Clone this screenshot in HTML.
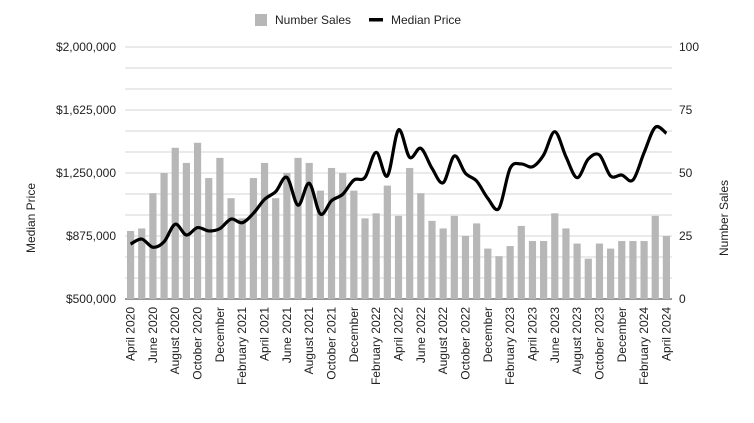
<!DOCTYPE html>
<html><head><meta charset="utf-8">
<style>
body{margin:0;background:#fff;font-family:"Liberation Sans",Arial,sans-serif;}
svg text{font-family:"Liberation Sans",Arial,sans-serif;}
</style></head>
<body>
<svg id="chart" width="754" height="418" viewBox="0 0 754 418">
  <g id="grid"></g>
  <g id="bars"></g>
  <path id="line" fill="none" stroke="#000" stroke-width="3.2" stroke-linejoin="round"/>
  <g id="yleft"></g>
  <g id="yright"></g>
  <g id="xlabels"></g>
  <text transform="translate(35,218) rotate(-90)" text-anchor="middle" font-size="12" fill="#222">Median Price</text>
  <text transform="translate(728,218) rotate(-90)" text-anchor="middle" font-size="12" fill="#222">Number Sales</text>
  <g>
    <g>
      <rect x="255" y="14" width="12" height="12" fill="#b7b7b7"/>
      <text x="275" y="24" font-size="12" fill="#222">Number Sales</text>
    </g>
    <g>
      <rect x="369" y="18" width="14" height="3.5" fill="#000"/>
      <text x="391" y="24" font-size="12" fill="#222">Median Price</text>
    </g>
  </g>
</svg>
<script>
const months = ["April 2020","May 2020","June 2020","July 2020","August 2020","September 2020","October 2020","November 2020","December","January 2021","February 2021","March 2021","April 2021","May 2021","June 2021","July 2021","August 2021","September 2021","October 2021","November 2021","December","January 2022","February 2022","March 2022","April 2022","May 2022","June 2022","July 2022","August 2022","September 2022","October 2022","November 2022","December","January 2023","February 2023","March 2023","April 2023","May 2023","June 2023","July 2023","August 2023","September 2023","October 2023","November 2023","December","January 2024","February 2024","March 2024","April 2024"];
const sales = [27,28,42,50,60,54,62,48,56,40,32,48,54,40,50,56,54,43,52,50,43,32,34,45,33,52,42,31,28,33,25,30,20,17,21,29,23,23,34,28,22,16,22,20,23,23,23,33,25];
const prices = [827000,857000,808000,841000,945000,881000,925000,905000,919000,976000,954000,1010000,1093000,1139000,1224000,1058000,1189000,1006000,1085000,1123000,1208000,1224000,1373000,1232000,1506000,1343000,1397000,1278000,1192000,1351000,1248000,1202000,1099000,1040000,1278000,1304000,1287000,1357000,1496000,1347000,1222000,1333000,1357000,1232000,1238000,1208000,1371000,1522000,1486000];
const leftTicks = ["$500,000","$875,000","$1,250,000","$1,625,000","$2,000,000"];
const rightTicks = ["0","25","50","75","100"];

const NS="http://www.w3.org/2000/svg";
const X0=125, X1=672, YT=47, YB=299;
const step=(X1-X0)/months.length;
const xPos=i=>X0+step*(i+0.5);
const ySales=v=>YB-(v/100)*(YB-YT);
const yPrice=v=>YB-((v-500000)/1500000)*(YB-YT);
function mk(tag,attrs,parent){const e=document.createElementNS(NS,tag);for(const k in attrs)e.setAttribute(k,attrs[k]);parent.appendChild(e);return e;}

const grid=document.getElementById('grid');
for(let i=0;i<=12;i++){
  const y=YB-i*(YB-YT)/12;
  const l=mk('line',{x1:X0,x2:X1,y1:y,y2:y,stroke:i===0?'#333':'#d6d6d6','stroke-width':1},grid);
  
  
}
const bars=document.getElementById('bars');
sales.forEach((v,i)=>{
  const r=mk('rect',{x:xPos(i)-3.6,width:7.2,y:ySales(v),height:YB-ySales(v),fill:'#b7b7b7'},bars);
  
  
});
// smooth line (Catmull-Rom)
const pts=prices.map((p,i)=>[xPos(i),yPrice(p)]);
let d=`M${pts[0][0]},${pts[0][1]}`;
for(let i=0;i<pts.length-1;i++){
  const p0=pts[Math.max(i-1,0)],p1=pts[i],p2=pts[i+1],p3=pts[Math.min(i+2,pts.length-1)];
  const t=0.17*3/3;
  const c1=[p1[0]+(p2[0]-p0[0])/6,p1[1]+(p2[1]-p0[1])/6];
  const c2=[p2[0]-(p3[0]-p1[0])/6,p2[1]-(p3[1]-p1[1])/6];
  d+=` C${c1[0]},${c1[1]} ${c2[0]},${c2[1]} ${p2[0]},${p2[1]}`;
}
document.getElementById('line').setAttribute('d',d);

const yl=document.getElementById('yleft'), yr=document.getElementById('yright');
leftTicks.forEach((t,i)=>{
  const y=YB-i*(YB-YT)/4+4;
  const a=mk('text',{x:116,y:y,'text-anchor':'end','font-size':12,fill:'#222'},yl);
  a.textContent=t;
  
  
  const b=mk('text',{x:679,y:y,'text-anchor':'start','font-size':12,fill:'#222'},yr);
  b.textContent=rightTicks[i];
  
  
});
const xl=document.getElementById('xlabels');
months.forEach((m,i)=>{
  if(i%2)return;
  const x=xPos(i)+4;
  const t=mk('text',{transform:`translate(${x},307) rotate(-90)`,'text-anchor':'end','font-size':12,fill:'#222'},xl);
  t.textContent=m;
  
  
});
</script>
</body></html>
